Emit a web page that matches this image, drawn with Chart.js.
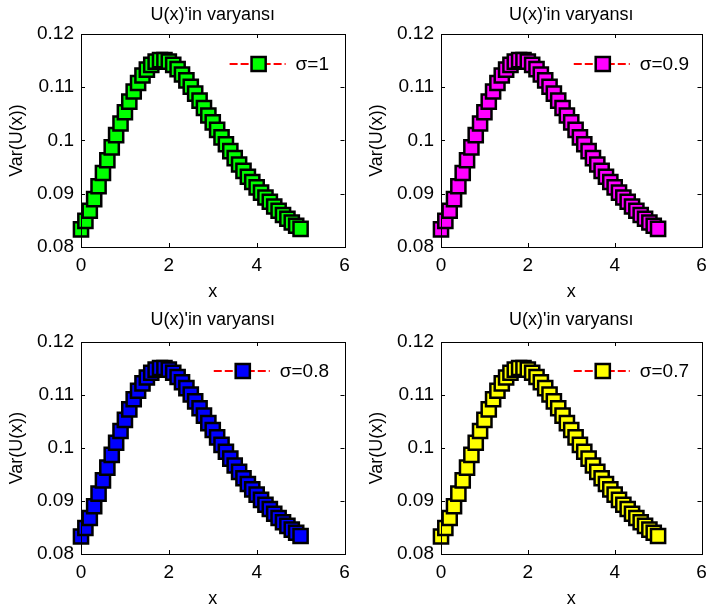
<!DOCTYPE html>
<html>
<head>
<meta charset="utf-8">
<script src="https://cdn.jsdelivr.net/npm/chart.js@4.4.1/dist/chart.umd.min.js"></script>
<style>
  html, body { margin: 0; padding: 0; background: #ffffff; }
  body { width: 714px; height: 613px; position: relative; overflow: hidden; }
  canvas { position: absolute; }
</style>
</head>
<body>
<canvas id="p1"></canvas>
<canvas id="p2"></canvas>
<canvas id="p3"></canvas>
<canvas id="p4"></canvas>
<script>
// x grid of the computation
const xValues = [
  0.0, 0.1, 0.2, 0.3, 0.4, 0.5, 0.6, 0.7, 0.8, 0.9,
  1.0, 1.1, 1.2, 1.3, 1.4, 1.5, 1.6, 1.7, 1.8, 1.9,
  2.0, 2.1, 2.2, 2.3, 2.4, 2.5, 2.6, 2.7, 2.8, 2.9,
  3.0, 3.1, 3.2, 3.3, 3.4, 3.5, 3.6, 3.7, 3.8, 3.9,
  4.0, 4.1, 4.2, 4.3, 4.4, 4.5, 4.6, 4.7, 4.8, 4.9,
  5.0
];

// Var(U(x)) at each x
const varianceValues = [
  0.0833, 0.0849, 0.0868, 0.0890, 0.0914, 0.0939, 0.0963, 0.0987, 0.1010, 0.1032,
  0.1053, 0.1073, 0.1092, 0.1108, 0.1122, 0.1133, 0.1142, 0.1148, 0.1151, 0.1151,
  0.1148, 0.1142, 0.1134, 0.1124, 0.1113, 0.1101, 0.1088, 0.1075, 0.1061, 0.1047,
  0.1034, 0.1020, 0.1006, 0.0993, 0.0980, 0.0967, 0.0955, 0.0943, 0.0932, 0.0922,
  0.0912, 0.0902, 0.0893, 0.0885, 0.0876, 0.0868, 0.0860, 0.0853, 0.0846, 0.0840,
  0.0834
];

const sigmaLabels = ['σ=1', 'σ=0.9', 'σ=0.8', 'σ=0.7'];
const markerColors = ['#00ff00', '#ff00ff', '#0000ff', '#ffff00'];
const xTicks = [0, 2, 4, 6];
const yTicks = [0.08, 0.09, 0.10, 0.11, 0.12];

const FONT = '"Liberation Sans", Arial, Helvetica, sans-serif';
const MARKER_RADIUS = 10;
const MARKER_BORDER = 2.5;

// panel placement on the page
const panels = [
  { id: 'p1', left: 0,   top: 0,   w: 357, h: 306, padL: 0, padR: 9, titleTop: 4, titleBottom: 8.4, legendDy: 30 },
  { id: 'p2', left: 357, top: 0,   w: 357, h: 306, padL: 3, padR: 6, titleTop: 4, titleBottom: 8.4, legendDy: 30 },
  { id: 'p3', left: 0,   top: 306, w: 357, h: 307, padL: 0, padR: 9, titleTop: 3, titleBottom: 11.4, legendDy: 29 },
  { id: 'p4', left: 357, top: 306, w: 357, h: 307, padL: 3, padR: 6, titleTop: 3, titleBottom: 11.4, legendDy: 29 }
];

// axes box with inward tick marks on all four sides
const boxPlugin = {
  id: 'axesBox',
  afterDraw(chart) {
    const { ctx, chartArea: a, scales } = chart;
    const t = 4;
    ctx.save();
    ctx.strokeStyle = '#000';
    ctx.lineWidth = 1;
    ctx.strokeRect(Math.round(a.left) + 0.5, Math.round(a.top) + 0.5,
                   Math.round(a.right - a.left), Math.round(a.bottom - a.top));
    ctx.beginPath();
    xTicks.forEach(v => {
      const px = Math.round(scales.x.getPixelForValue(v)) + 0.5;
      ctx.moveTo(px, a.bottom); ctx.lineTo(px, a.bottom - t);
      ctx.moveTo(px, a.top); ctx.lineTo(px, a.top + t);
    });
    yTicks.forEach(v => {
      const py = Math.round(scales.y.getPixelForValue(v)) + 0.5;
      ctx.moveTo(a.left, py); ctx.lineTo(a.left + t, py);
      ctx.moveTo(a.right, py); ctx.lineTo(a.right - t, py);
    });
    ctx.stroke();
    ctx.restore();
  }
};

// legend entry: dashed red line, square marker and the sigma label
const sigmaLegend = {
  id: 'sigmaLegend',
  afterDraw(chart, args, opts) {
    const { ctx, chartArea: a } = chart;
    ctx.save();
    ctx.font = '19px ' + FONT;
    const tw = ctx.measureText(opts.text).width;
    const tx = a.left + 248 - tw;
    const mx = tx - 37;
    const y = a.top + opts.dy;
    ctx.strokeStyle = '#ff0000';
    ctx.lineWidth = 2;
    ctx.setLineDash([8, 3]);
    ctx.beginPath();
    ctx.moveTo(mx - 29, y);
    ctx.lineTo(mx + 27, y);
    ctx.stroke();
    ctx.setLineDash([]);
    ctx.fillStyle = opts.color;
    ctx.strokeStyle = '#000';
    ctx.lineWidth = MARKER_BORDER;
    Chart.helpers.drawPoint(ctx, { pointStyle: 'rect', radius: MARKER_RADIUS, rotation: 0, borderWidth: MARKER_BORDER }, mx, y);
    ctx.fillStyle = '#000';
    ctx.textAlign = 'left';
    ctx.textBaseline = 'middle';
    ctx.fillText(opts.text, tx, y + 1);
    ctx.restore();
  }
};

panels.forEach((p, i) => {
  const cv = document.getElementById(p.id);
  cv.width = p.w; cv.height = p.h;
  cv.style.left = p.left + 'px'; cv.style.top = p.top + 'px';
  cv.style.width = p.w + 'px'; cv.style.height = p.h + 'px';

  const points = xValues.map((x, k) => ({ x: x, y: varianceValues[k] }));

  new Chart(cv, {
    type: 'line',
    data: {
      datasets: [{
        label: sigmaLabels[i],
        data: points,
        borderColor: '#ff0000',
        borderWidth: 2,
        borderDash: [8, 3],
        tension: 0,
        fill: false,
        pointStyle: 'rect',
        pointRadius: MARKER_RADIUS,
        pointHoverRadius: MARKER_RADIUS,
        pointBorderWidth: MARKER_BORDER,
        pointBorderColor: '#000000',
        pointBackgroundColor: markerColors[i],
        clip: false
      }]
    },
    options: {
      responsive: false,
      animation: false,
      devicePixelRatio: 1,
      events: [],
      layout: { padding: { left: p.padL, right: p.padR, top: 0, bottom: 0 } },
      plugins: {
        legend: { display: false },
        tooltip: { enabled: false },
        title: {
          display: true,
          text: "U(x)'in varyansı",
          color: '#000',
          fullSize: false,
          font: { family: FONT, size: 18, weight: 'normal' },
          padding: { top: p.titleTop, bottom: p.titleBottom }
        },
        sigmaLegend: { text: sigmaLabels[i], color: markerColors[i], dy: p.legendDy }
      },
      scales: {
        x: {
          type: 'linear',
          min: 0, max: 6,
          grid: { display: false, drawTicks: false },
          border: { display: false },
          afterFit(s) { s.height = 59; },
          afterBuildTicks(s) { s.ticks = xTicks.map(v => ({ value: v })); },
          ticks: {
            color: '#000',
            padding: 7,
            maxRotation: 0,
            font: { family: FONT, size: 19 },
            callback: v => String(v)
          },
          title: {
            display: true, text: 'x', color: '#000',
            font: { family: FONT, size: 18 },
            padding: { top: 0, bottom: 3 }
          }
        },
        y: {
          type: 'linear',
          min: 0.08, max: 0.12,
          grid: { display: false, drawTicks: false },
          border: { display: false },
          afterFit(s) { s.width = 81; },
          afterBuildTicks(s) { s.ticks = yTicks.map(v => ({ value: v })); },
          ticks: {
            color: '#000',
            padding: 7,
            font: { family: FONT, size: 19 },
            callback: v => String(+Number(v).toFixed(2))
          },
          title: {
            display: true, text: 'Var(U(x))', color: '#000',
            font: { family: FONT, size: 18 },
            padding: { top: 5.9, bottom: 0 }
          }
        }
      }
    },
    plugins: [boxPlugin, sigmaLegend]
  });
});
</script>
</body>
</html>
